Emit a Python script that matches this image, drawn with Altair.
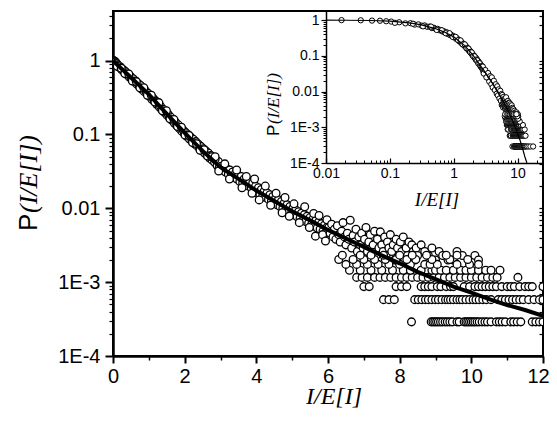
import altair as alt
import pandas as pd

# ---------------- data ----------------
# thick fitted line (main panel)
line_x = [0, 0.5, 1, 1.5, 2, 2.5, 3, 3.5, 4, 4.5, 5, 5.5, 6, 6.5, 7, 7.5, 8, 8.5, 9, 9.5, 10, 10.5, 11, 11.5, 12]
line_y = [1.0, 0.59, 0.35, 0.19, 0.105, 0.060, 0.036, 0.025, 0.0174, 0.0126, 0.0091, 0.0069, 0.0051, 0.0039,
          0.0030, 0.0023, 0.0018, 0.00138, 0.0011, 0.00087, 0.00072, 0.00059, 0.00049, 0.00042, 0.00035]

# thin line (inset)
inset_line_x = [0.01, 0.02, 0.05, 0.1, 0.2, 0.3, 0.5, 0.7, 1, 1.5, 2, 3, 4, 5, 6, 7, 8, 9, 10, 11, 12, 13, 14]
inset_line_y = [1.0, 0.99, 0.975, 0.94, 0.84, 0.75, 0.59, 0.47, 0.34, 0.19, 0.105, 0.038, 0.0175, 0.0092,
                0.0052, 0.0031, 0.0018, 0.0011, 0.00068, 0.00042, 0.00025, 0.00015, 0.0001]

# open circles along the curve, 0 < x < 3
a_x = [0.0175, 0.035, 0.0525, 0.07, 0.0875, 0.105, 0.14, 0.175, 0.21, 0.245, 0.28, 0.315, 0.35, 0.385, 0.42,
       0.455, 0.49, 0.525, 0.56, 0.595, 0.63, 0.665, 0.70, 0.735, 0.77, 0.805, 0.84, 0.875, 0.91, 0.945, 0.98,
       1.015, 1.05, 1.085, 1.12, 1.155, 1.19, 1.225, 1.26, 1.295, 1.33, 1.365, 1.40, 1.435, 1.47, 1.505, 1.54,
       1.575, 1.61, 1.645, 1.68, 1.715, 1.75, 1.785, 1.82, 1.855, 1.89, 1.925, 1.96, 1.995, 2.03, 2.065, 2.10,
       2.135, 2.17, 2.205, 2.24, 2.275, 2.31, 2.345, 2.38, 2.415, 2.45, 2.485, 2.52, 2.555, 2.59, 2.625, 2.66,
       2.695, 2.73, 2.765, 2.80, 2.835, 2.87, 2.905, 2.94, 2.975]
a_y = [1.0, 0.99, 0.97, 0.96, 0.93, 0.91, 0.87, 0.81, 0.82, 0.75, 0.76, 0.70, 0.71, 0.65, 0.66,
       0.60, 0.61, 0.56, 0.57, 0.52, 0.53, 0.48, 0.49, 0.45, 0.46, 0.41, 0.42, 0.38, 0.39, 0.36, 0.36,
       0.33, 0.335, 0.30, 0.31, 0.28, 0.285, 0.255, 0.26, 0.235, 0.24, 0.215, 0.22, 0.20, 0.205, 0.183, 0.188,
       0.168, 0.172, 0.155, 0.160, 0.142, 0.146, 0.131, 0.135, 0.120, 0.124, 0.110, 0.114, 0.102, 0.106, 0.094,
       0.099, 0.087, 0.092, 0.081, 0.086, 0.075, 0.080, 0.070, 0.074, 0.065, 0.069, 0.060, 0.064, 0.056, 0.060,
       0.052, 0.056, 0.048, 0.052, 0.045, 0.049, 0.042, 0.045, 0.038, 0.043, 0.036]

# extra circles scattered a little above/below the band, 0 < x < 3
a2_x = [0.12, 0.23, 0.33, 0.44, 0.54, 0.65, 0.75, 0.86, 0.96, 1.07, 1.17, 1.28, 1.38, 1.49, 1.59, 1.70,
        1.80, 1.91, 2.01, 2.12, 2.22, 2.33, 2.43, 2.54, 2.64, 2.75, 2.85, 2.96]
a2_y = [0.84, 0.79, 0.67, 0.66, 0.53, 0.52, 0.43, 0.43, 0.34, 0.34, 0.275, 0.27, 0.21, 0.21, 0.163, 0.16,
        0.128, 0.125, 0.098, 0.097, 0.078, 0.075, 0.061, 0.062, 0.051, 0.050, 0.046, 0.035]

# open circles, 3 < x < 6
b_x = [3.02, 3.06, 3.10, 3.14, 3.18, 3.22, 3.26, 3.30, 3.34, 3.38, 3.42, 3.46, 3.50, 3.54, 3.58, 3.62, 3.66,
       3.70, 3.74, 3.78, 3.82, 3.86, 3.90, 3.94, 3.98, 4.02, 4.06, 4.10, 4.14, 4.18, 4.22, 4.26, 4.30, 4.34,
       4.38, 4.42, 4.46, 4.50, 4.54, 4.58, 4.62, 4.66, 4.70, 4.74, 4.78, 4.82, 4.86, 4.90, 4.94, 4.98, 5.02,
       5.06, 5.10, 5.14, 5.18, 5.22, 5.26, 5.30, 5.34, 5.38, 5.42, 5.46, 5.50, 5.54, 5.58, 5.62, 5.66, 5.70,
       5.74, 5.78, 5.82, 5.86, 5.90, 5.94, 5.98,
       2.85, 2.95, 3.12, 3.25, 3.45, 3.6, 3.72, 3.88, 3.95, 4.08, 4.25, 4.4, 4.55, 4.72, 4.8, 4.92, 5.05, 5.2,
       5.35, 5.48, 5.6, 5.65, 5.75, 5.85, 5.93, 5.97]
b_y = [0.037, 0.033, 0.036, 0.031, 0.034, 0.029, 0.033, 0.028, 0.031, 0.026, 0.030, 0.025, 0.028, 0.023,
       0.027, 0.022, 0.025, 0.021, 0.024, 0.020, 0.023, 0.019, 0.022, 0.018, 0.020, 0.016, 0.019, 0.0155,
       0.018, 0.0148, 0.017, 0.0140, 0.0162, 0.0132, 0.0153, 0.0125, 0.0145, 0.0118, 0.0138, 0.0112, 0.0131,
       0.0106, 0.0124, 0.0100, 0.0118, 0.0095, 0.0112, 0.0090, 0.0106, 0.0085, 0.0100, 0.0081, 0.0095,
       0.0077, 0.0090, 0.0073, 0.0086, 0.0069, 0.0082, 0.0066, 0.0078, 0.0063, 0.0075, 0.0060, 0.0071,
       0.0057, 0.0068, 0.0054, 0.0065, 0.0052, 0.0062, 0.0049, 0.0059, 0.0047, 0.0056,
       0.050, 0.032, 0.040, 0.025, 0.033, 0.019, 0.027, 0.016, 0.025, 0.013, 0.020, 0.011, 0.016, 0.0087,
       0.014, 0.0078, 0.0115, 0.0064, 0.0105, 0.0055, 0.0085, 0.0042, 0.0080, 0.0044, 0.0036, 0.0070]

# open circles, upper cloud 6 < x < 10.5
c_x = [6.02, 6.06, 6.10, 6.14, 6.18, 6.22, 6.26, 6.30, 6.34, 6.38, 6.42, 6.46, 6.50, 6.54, 6.58, 6.62, 6.66,
       6.70, 6.74, 6.78, 6.82, 6.86, 6.90, 6.94, 6.98, 7.02, 7.06, 7.10, 7.14, 7.18, 7.22, 7.26, 7.30, 7.34,
       7.38, 7.42, 7.46, 7.50, 7.54, 7.58, 7.62, 7.66, 7.70, 7.74, 7.78, 7.82, 7.86, 7.90, 7.94, 7.98, 8.02,
       8.06, 8.10, 8.14, 8.18, 8.22, 8.26, 8.30, 8.34, 8.38, 8.42, 8.46, 8.5, 8.6, 8.7, 8.8, 8.9, 9.0, 9.1,
       9.2, 9.35, 9.5, 9.6, 9.75, 10.1, 10.2]
c_y = [0.0055, 0.0046, 0.0061, 0.0041, 0.0052, 0.0038, 0.0058, 0.0044, 0.0035, 0.0049, 0.0064, 0.0041,
       0.0032, 0.0046, 0.0038, 0.0069, 0.0029, 0.0043, 0.0035, 0.0052, 0.0026, 0.0041, 0.0032, 0.0046,
       0.0029, 0.0038, 0.0055, 0.0026, 0.0035, 0.0044, 0.0029, 0.0032, 0.0049, 0.0023, 0.0038, 0.0029,
       0.0048, 0.0032, 0.0026, 0.0041, 0.0023, 0.0035, 0.0029, 0.0044, 0.0026, 0.0032, 0.0020, 0.0038,
       0.0029, 0.0023, 0.0035, 0.0026, 0.0041, 0.0020, 0.0029, 0.0023, 0.0035, 0.0020, 0.0032, 0.0026,
       0.0020, 0.0029, 0.0023, 0.0032, 0.0026, 0.0023, 0.0029, 0.0020, 0.0026, 0.0023, 0.0020, 0.0020,
       0.0026, 0.0023, 0.0023, 0.0020]

# quantised rows at low probability (level value and x positions)
row_levels = [0.00029, 0.00058, 0.00087, 0.00116, 0.00145, 0.00174, 0.00203, 0.00232]
row_xs = [
    [8.33, 8.88, 8.93, 8.98, 9.03, 9.08, 9.14, 9.2, 9.27, 9.33, 9.4, 9.47, 9.6, 9.66, 9.8, 9.85, 9.9, 9.95,
     10.0, 10.05, 10.1, 10.16, 10.22, 10.3, 10.38, 10.45, 10.55, 10.7, 10.78, 10.86, 10.95, 11.1, 11.18,
     11.28, 11.38, 11.7, 11.8, 11.9, 12.0, 12.25, 12.5, 12.9, 13.4, 14.0, 14.8, 15.9, 17.5],
    [7.55, 7.7, 7.85, 8.42, 8.52, 8.62, 8.72, 8.8, 8.9, 9.0, 9.08, 9.18, 9.28, 9.35, 9.42, 9.5, 9.6, 9.68,
     9.75, 9.85, 9.95, 10.05, 10.13, 10.22, 10.32, 10.42, 10.55, 10.75, 10.85, 10.95, 11.05, 11.15, 11.25,
     11.35, 11.45, 11.6, 11.75, 11.9, 12.0, 12.2, 12.45, 12.8, 13.3],
    [7.0, 7.15, 7.9, 8.05, 8.2, 8.6, 8.7, 8.8, 8.9, 9.05, 9.15, 9.3, 9.42, 9.5, 9.8, 9.95, 10.1, 10.2, 10.3,
     10.4, 10.5, 10.6, 10.7, 10.85, 11.0, 11.1, 11.2, 11.35, 11.5, 11.6, 11.7, 12.0, 12.3, 12.9],
    [6.8, 6.95, 7.1, 7.3, 7.45, 7.6, 7.75, 7.9, 8.05, 8.2, 8.35, 8.5, 8.65, 8.8, 8.95, 9.1, 9.25, 9.4, 9.55,
     9.7, 9.85, 10.0, 10.15, 10.3, 10.45, 10.6, 10.72, 11.3, 12.1],
    [6.6, 6.9, 7.2, 7.5, 7.8, 8.1, 8.3, 8.6, 8.9, 9.0, 9.15, 9.3, 9.5, 9.7, 9.85, 10.0, 10.2, 10.4, 10.55, 10.8],
    [6.5, 6.8, 7.1, 7.4, 7.7, 8.0, 8.3, 8.7, 8.85, 9.05, 9.6, 9.95, 10.2],
    [6.3, 6.7, 7.0, 7.3, 7.6, 7.9, 8.2, 8.45, 8.9, 9.4, 9.9],
    [6.4, 6.9, 7.2, 7.55, 8.0, 8.35, 8.75, 9.3, 9.6],
]

# tick labels
main_x_ticks = [0, 2, 4, 6, 8, 10, 12]
main_y_ticks = [1e-4, 1e-3, 1e-2, 1e-1, 1]
main_y_labels = ["1E-4", "1E-3", "0.01", "0.1", "1"]
inset_x_ticks = [0.01, 0.1, 1, 10]
inset_x_labels = ["0.01", "0.1", "1", "10"]
inset_y_ticks = [1e-4, 1e-3, 1e-2, 1e-1, 1]
inset_y_labels = ["1E-4", "1E-3", "0.01", "0.1", "1"]

# ---------------- build tables ----------------
pts_x = list(a_x) + list(a2_x) + list(b_x) + list(c_x)
pts_y = list(a_y) + list(a2_y) + list(b_y) + list(c_y)
for lev, xs in zip(row_levels, row_xs):
    pts_x += xs
    pts_y += [lev] * len(xs)
pts = pd.DataFrame({"x": pts_x, "y": pts_y})
main_pts = pts[pts.x <= 12.2]
line_df = pd.DataFrame({"x": line_x, "y": line_y})
inset_line_df = pd.DataFrame({"x": inset_line_x, "y": inset_line_y})
dummy = pd.DataFrame({"a": [0]})

def minors(lo_exp, hi_exp):
    out = []
    for e in range(lo_exp, hi_exp):
        for k in range(2, 10):
            out.append(k * 10.0 ** e)
    return out

main_y_minor = minors(-4, 0) + [2.0, 3.0, 4.0]
inset_y_minor = minors(-4, 0)
inset_x_minor = minors(-2, 1) + [20.0]

W, H = 430, 345
SANS = "Liberation Sans"
SERIF = "Liberation Serif"

def lab_expr(labels, offset):
    arr = "[" + ",".join("'%s'" % s for s in labels) + "]"
    return arr + "[round(log(datum.value)/LN10)+%d]" % offset

xs_main = alt.Scale(domain=[0, 12], nice=False, zero=False)
ys_main = alt.Scale(type="log", domain=[1e-4, 4.7], nice=False)
xs_in = alt.Scale(type="log", domain=[0.01, 25], range=[213, 430], nice=False)
ys_in = alt.Scale(type="log", domain=[1e-4, 1.8], range=[152, 0], nice=False)

common = dict(grid=False, title=None, domainColor="black", tickColor="black", labelColor="black",
              labelFont=SANS)

main_scatter = alt.Chart(main_pts).mark_circle(
    fill="white", stroke="black", strokeWidth=1.3, size=60, opacity=1, fillOpacity=1, clip=True
).encode(
    x=alt.X("x:Q", scale=xs_main, axis=alt.Axis(
        orient="bottom", values=main_x_ticks, tickSize=7, tickWidth=2, domainWidth=2.5,
        labelFontSize=20, labelPadding=3, labelFlush=False, labelOverlap=False,
        labelOffset={"condition": {"test": "datum.value == 12", "value": -5}, "value": 0},
        **common)),
    y=alt.Y("y:Q", scale=ys_main, axis=alt.Axis(
        orient="left", values=main_y_ticks, tickSize=8, tickWidth=2, domainWidth=2.5,
        labelFontSize=20, labelPadding=5, labelOverlap=False, labelExpr=lab_expr(main_y_labels, 4), **common)),
)

main_line = alt.Chart(line_df).mark_line(color="black", strokeWidth=4, clip=True).encode(
    x=alt.X("x:Q", scale=xs_main, axis=alt.Axis(
        orient="bottom", values=[1, 3, 5, 7, 9, 11], tickSize=4, tickWidth=1.5, domain=False,
        labels=False, **common)),
    y=alt.Y("y:Q", scale=ys_main, axis=alt.Axis(
        orient="left", values=main_y_minor, tickSize=4, tickWidth=1.2, domain=False,
        labels=False, **common)),
)

right_ticks = alt.Chart(line_df).mark_line(opacity=0).encode(
    x=alt.X("x:Q", scale=xs_main, axis=None),
    y=alt.Y("y:Q", scale=ys_main, axis=alt.Axis(
        orient="left", offset=-W, values=main_y_minor + main_y_ticks, tickSize=4, tickWidth=1.2,
        domain=False, labels=False, **common)),
)

inset_scatter = alt.Chart(pts).mark_circle(
    fill="white", stroke="black", strokeWidth=1, size=28, opacity=1, fillOpacity=1
).encode(
    x=alt.X("x:Q", scale=xs_in, axis=alt.Axis(
        orient="bottom", offset=-(H - 152), values=inset_x_ticks, ticks=False, domainWidth=1.5,
        labelFontSize=14, labelPadding=3, labelFlush=False, labelOverlap=False,
        labelExpr=lab_expr(inset_x_labels, 2), **common)),
    y=alt.Y("y:Q", scale=ys_in, axis=alt.Axis(
        orient="left", offset=-213, values=inset_y_ticks, tickSize=5, tickWidth=1.2, domainWidth=1.5,
        labelFontSize=14, labelPadding=2, labelOverlap=False,
        labelExpr=lab_expr(inset_y_labels, 4), **common)),
)

inset_line = alt.Chart(inset_line_df).mark_line(color="black", strokeWidth=1.2).encode(
    x=alt.X("x:Q", scale=xs_in, axis=alt.Axis(
        orient="top", offset=-152, values=inset_x_ticks, tickSize=5, tickWidth=1.2,
        domain=False, labels=False, **common)),
    y=alt.Y("y:Q", scale=ys_in, axis=alt.Axis(
        orient="left", offset=-213, values=inset_y_minor, tickSize=3, tickWidth=1,
        domain=False, labels=False, **common)),
)

inset_minor = alt.Chart(inset_line_df).mark_line(opacity=0).encode(
    x=alt.X("x:Q", scale=xs_in, axis=alt.Axis(
        orient="top", offset=-152, values=inset_x_minor, tickSize=3, tickWidth=1,
        domain=False, labels=False, **common)),
    y=alt.Y("y:Q", scale=ys_in, axis=None),
)

def txt(text, x, y, font, size, italic=False, angle=0, align="left"):
    kw = dict(text=text, font=font, fontSize=size, align=align, baseline="alphabetic", color="black")
    if italic:
        kw["fontStyle"] = "italic"
    if angle:
        kw["angle"] = angle
    return alt.Chart(dummy).mark_text(**kw).encode(x=alt.value(x), y=alt.value(y))

titles = [
    txt("P", -76, 220, SANS, 26, angle=270),
    txt("(I/E[I])", -76, 202, SERIF, 26, italic=True, angle=270),
    txt("I/E[I]", 221, 393, SERIF, 24, italic=True, align="center"),
    txt("P", 166, 125, SANS, 17, angle=270),
    txt("(I/E[I])", 166, 113, SERIF, 17, italic=True, angle=270),
    txt("I/E[I]", 324, 195, SERIF, 19, italic=True, align="center"),
]

chart = alt.layer(
    main_scatter, main_line, right_ticks, inset_scatter, inset_line, inset_minor, *titles
).resolve_scale(
    x="independent", y="independent"
).properties(
    width=W, height=H,
    autosize=alt.AutoSizeParams(type="none"),
    padding={"left": 105, "top": 3, "right": 6, "bottom": 52},
).configure_view(stroke="black", strokeWidth=2)

chart.save("out.html", embed_options={"renderer": "svg", "actions": False})
